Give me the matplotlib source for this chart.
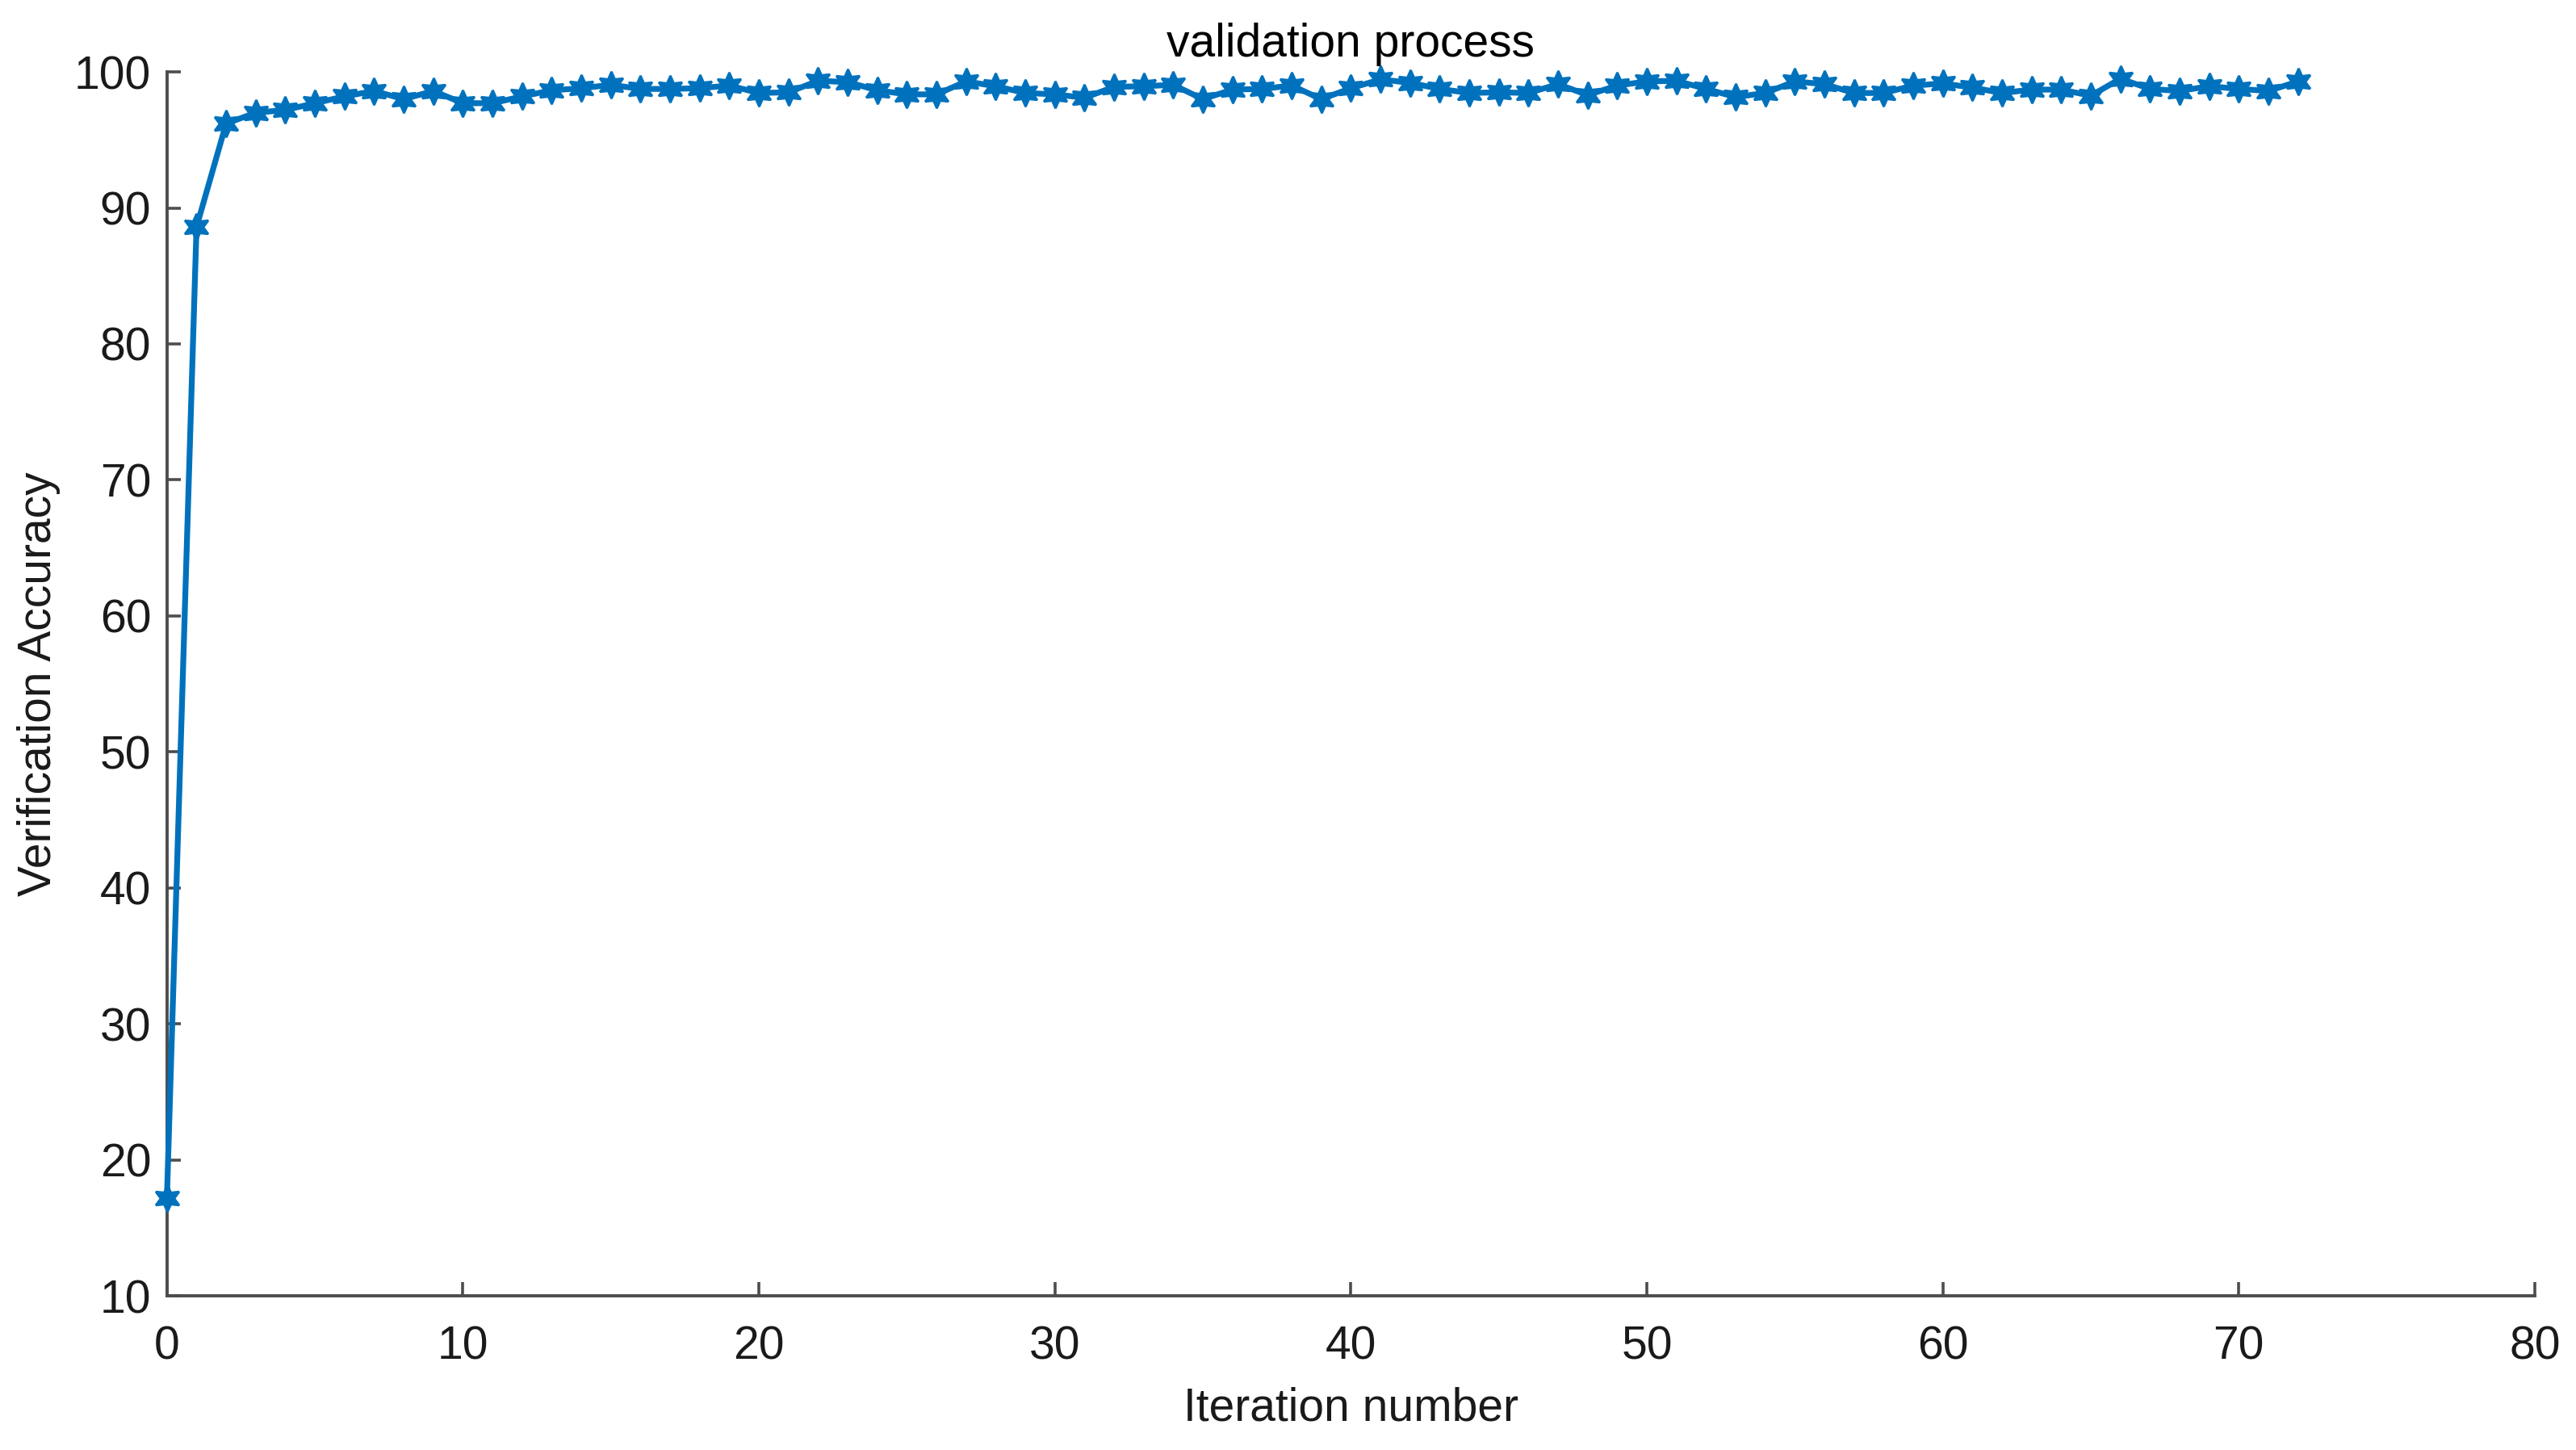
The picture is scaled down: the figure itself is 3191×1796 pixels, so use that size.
import matplotlib
matplotlib.use("Agg")
import matplotlib.pyplot as plt
import numpy as np

iterations = list(range(73))
accuracy = [17.2, 88.6, 96.2, 97.0, 97.2, 97.7, 98.2, 98.6, 98.0, 98.6,
            97.7, 97.7, 98.2, 98.65, 98.8, 99.05, 98.75, 98.75, 98.8, 99.0,
            98.45, 98.5, 99.35, 99.25, 98.65, 98.35, 98.35, 99.3, 98.95, 98.45,
            98.35, 98.1, 98.9, 98.95, 99.05, 98.0, 98.7, 98.75, 99.0, 98.0,
            98.8, 99.45, 99.2, 98.75, 98.45, 98.5, 98.45, 99.1, 98.3, 99.0,
            99.3, 99.35, 98.75, 98.15, 98.45, 99.3, 99.1, 98.45, 98.45, 99.0,
            99.15, 98.85, 98.45, 98.7, 98.7, 98.25, 99.5, 98.75, 98.6, 98.95,
            98.75, 98.6, 99.3]

xticks = [0, 10, 20, 30, 40, 50, 60, 70, 80]
yticks = [10, 20, 30, 40, 50, 60, 70, 80, 90, 100]

plt.rcParams['font.family'] = ['Liberation Sans', 'DejaVu Sans']

fig = plt.figure(figsize=(15.955, 8.98), dpi=200)
ax = fig.add_axes([0.0648, 0.1063, 0.9192, 0.8441])

line_color = '#0072BD'
ax.plot(iterations, accuracy, color=line_color, linewidth=2.6,
        marker=(6, 1, 0), markersize=12, markerfacecolor=line_color,
        markeredgecolor=line_color, markeredgewidth=1.0, clip_on=False, zorder=3)

ax.set_xlim(0, 80)
ax.set_ylim(10, 100)
ax.set_xticks(xticks)
ax.set_yticks(yticks)

axis_color = '#4d4d4d'
for side in ['top', 'right']:
    ax.spines[side].set_visible(False)
for side in ['left', 'bottom']:
    ax.spines[side].set_color(axis_color)
    ax.spines[side].set_linewidth(1.4)

ax.tick_params(axis='both', direction='in', length=6, width=1.3,
               colors=axis_color, labelcolor='#1a1a1a', labelsize=20.5)
ax.tick_params(axis='x', pad=13)
ax.tick_params(axis='y', pad=7)

ax.set_xlabel('Iteration number', fontsize=20.5, color='#1a1a1a', labelpad=8)
ax.set_ylabel('Verification Accuracy', fontsize=20.5, color='#1a1a1a', labelpad=6)
ax.set_title('validation process', fontsize=20.5, color='#000000', pad=7)

fig.savefig('out.png', dpi=200, facecolor='white')
